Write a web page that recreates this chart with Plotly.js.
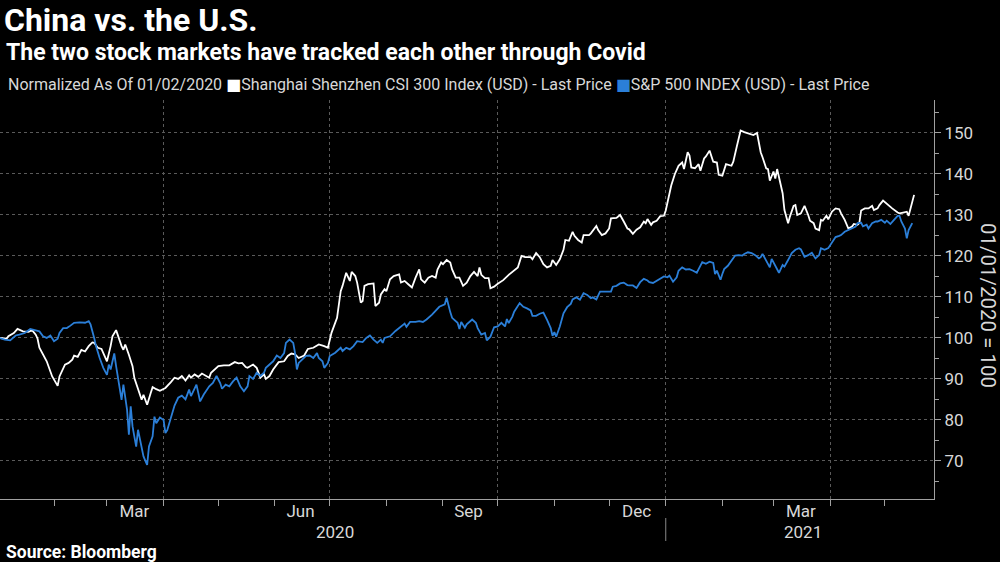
<!DOCTYPE html>
<html>
<head>
<meta charset="utf-8">
<script src="https://cdn.plot.ly/plotly-3.0.1.min.js"></script>
<style>html,body{margin:0;padding:0;background:#000;}#chart{width:1000px;height:562px;}</style>
</head>
<body>
<div id="chart"></div>
<script>
const csiDates = ['2020-01-02','2020-01-06','2020-01-07','2020-01-10','2020-01-12','2020-01-15','2020-01-18','2020-01-20','2020-01-22','2020-01-23','2020-01-24','2020-01-28','2020-01-31','2020-02-03','2020-02-04','2020-02-07','2020-02-09','2020-02-11','2020-02-12','2020-02-14','2020-02-16','2020-02-18','2020-02-20','2020-02-22','2020-02-23','2020-02-25','2020-02-27','2020-02-29','2020-03-01','2020-03-03','2020-03-04','2020-03-06','2020-03-07','2020-03-09','2020-03-10','2020-03-11','2020-03-13','2020-03-15','2020-03-16','2020-03-18','2020-03-20','2020-03-21','2020-03-23','2020-03-25','2020-03-26','2020-03-28','2020-03-30','2020-04-02','2020-04-04','2020-04-05','2020-04-07','2020-04-09','2020-04-11','2020-04-13','2020-04-15','2020-04-16','2020-04-18','2020-04-20','2020-04-22','2020-04-24','2020-04-26','2020-04-27','2020-04-29','2020-05-01','2020-05-04','2020-05-07','2020-05-10','2020-05-12','2020-05-14','2020-05-16','2020-05-17','2020-05-20','2020-05-22','2020-05-24','2020-05-26','2020-05-27','2020-05-29','2020-05-31','2020-06-03','2020-06-06','2020-06-08','2020-06-10','2020-06-12','2020-06-14','2020-06-17','2020-06-19','2020-06-22','2020-06-25','2020-06-28','2020-06-30','2020-07-02','2020-07-05','2020-07-07','2020-07-08','2020-07-10','2020-07-12','2020-07-13','2020-07-15','2020-07-16','2020-07-18','2020-07-19','2020-07-20','2020-07-22','2020-07-25','2020-07-26','2020-07-28','2020-07-29','2020-07-31','2020-08-01','2020-08-03','2020-08-05','2020-08-08','2020-08-09','2020-08-11','2020-08-13','2020-08-15','2020-08-17','2020-08-19','2020-08-20','2020-08-22','2020-08-24','2020-08-26','2020-08-28','2020-08-29','2020-08-31','2020-09-01','2020-09-03','2020-09-05','2020-09-06','2020-09-08','2020-09-10','2020-09-12','2020-09-14','2020-09-16','2020-09-18','2020-09-20','2020-09-21','2020-09-22','2020-09-24','2020-09-26','2020-09-27','2020-09-29','2020-10-01','2020-10-04','2020-10-07','2020-10-10','2020-10-12','2020-10-14','2020-10-16','2020-10-19','2020-10-20','2020-10-22','2020-10-24','2020-10-26','2020-10-28','2020-10-30','2020-10-31','2020-11-02','2020-11-04','2020-11-06','2020-11-07','2020-11-09','2020-11-11','2020-11-12','2020-11-14','2020-11-16','2020-11-17','2020-11-20','2020-11-21','2020-11-24','2020-11-25','2020-11-27','2020-11-29','2020-12-01','2020-12-02','2020-12-05','2020-12-07','2020-12-09','2020-12-11','2020-12-12','2020-12-14','2020-12-16','2020-12-18','2020-12-20','2020-12-21','2020-12-22','2020-12-24','2020-12-25','2020-12-27','2020-12-29','2020-12-31','2021-01-01','2021-01-02','2021-01-04','2021-01-06','2021-01-08','2021-01-10','2021-01-11','2021-01-13','2021-01-14','2021-01-15','2021-01-17','2021-01-19','2021-01-20','2021-01-22','2021-01-23','2021-01-25','2021-01-27','2021-01-29','2021-01-30','2021-02-01','2021-02-03','2021-02-06','2021-02-07','2021-02-09','2021-02-11','2021-02-13','2021-02-16','2021-02-18','2021-02-20','2021-02-22','2021-02-23','2021-02-25','2021-02-26','2021-02-27','2021-03-01','2021-03-02','2021-03-03','2021-03-05','2021-03-06','2021-03-07','2021-03-09','2021-03-10','2021-03-12','2021-03-13','2021-03-14','2021-03-16','2021-03-17','2021-03-18','2021-03-20','2021-03-21','2021-03-23','2021-03-24','2021-03-26','2021-03-27','2021-03-28','2021-03-30','2021-03-31','2021-04-02','2021-04-04','2021-04-06','2021-04-07','2021-04-09','2021-04-11','2021-04-13','2021-04-14','2021-04-16','2021-04-17','2021-04-18','2021-04-20','2021-04-22','2021-04-24','2021-04-25','2021-04-27','2021-04-28','2021-04-30','2021-05-02','2021-05-03','2021-05-05','2021-05-08','2021-05-09','2021-05-11','2021-05-13','2021-05-14','2021-05-16','2021-05-17'];
const csiValues = [100,99.8,100.4,101.2,102.2,101.6,101.5,101.9,100.8,99.8,97.6,94.3,90.6,88.3,90.6,93.5,93.9,94.7,95.7,95.4,97.1,96.7,98,98.9,98.8,97.6,97.3,95.1,94.3,98,100.4,101.9,100.4,98,97.1,98.4,95.9,93.1,90.2,87.8,84.9,86.1,83.7,86.6,88,87.5,87.1,87.8,88.6,89.2,90.3,90,90.7,89.6,90.9,90.3,91.1,90.5,91.3,90.7,90.3,91.5,92.3,93.1,93.3,93.3,94.1,93.8,93.9,92.9,92.7,93.5,92.7,90.3,91.1,90,90.7,92.3,94.1,94.3,95.6,96.2,96,95.1,95.7,97.3,97.6,98.4,98,97.6,101.3,104.9,111.4,112.7,115.9,113.9,116.1,115.1,113.5,108.6,109,112.7,113.1,113.3,107.8,108.6,110.6,111.9,111.4,114.3,115.1,115.5,113.5,113.9,113.1,112.3,114.7,116.7,114.3,113.5,114.7,115.1,114.7,116.7,118.4,118,119,118.4,116.7,114.7,114.7,112.7,113.5,115.1,116.1,115.1,117.2,115.4,114.6,114.6,112.1,112.5,113.2,114.1,115.4,116.4,117.2,120,119.7,119.7,119.2,120.7,119.7,118,117.2,117.6,119,117.8,119.2,121.5,123.9,123.7,125.9,124.9,123.9,123.3,125.1,125.1,125.5,127.3,126.3,125.1,125.5,126.7,129.2,129.3,130,128.4,126.7,126.5,125.4,126.4,127,128.4,128,129,127.6,128.2,128.6,129.7,129.8,131.1,133.1,137.2,140,142,142.8,141.2,145.3,144.5,141.6,141.4,142.4,140.8,143.8,144.3,145.7,143,142.8,139.8,139.6,142.4,142,143,146.9,150.6,150.2,149.8,149.5,150,145.3,144.1,141.4,141.2,138.4,140.6,138.9,141.2,137,135.3,131.2,128,129.6,132.2,132.4,130,130.4,131.2,132.2,130,128.6,128,126.7,126.3,128.8,128.6,129.8,128.9,130.8,131.6,131.4,130.4,128.8,126.7,127.2,127.8,127.6,128,131.1,131.6,131.6,132.2,131.2,131.6,132.4,133.5,132.7,132.2,131.6,130.6,130.4,130.6,130.8,129.8,132.8,134.9];

const spxDates = ['2020-01-02','2020-01-05','2020-01-08','2020-01-11','2020-01-13','2020-01-16','2020-01-19','2020-01-21','2020-01-23','2020-01-24','2020-01-26','2020-01-28','2020-01-30','2020-02-01','2020-02-03','2020-02-04','2020-02-06','2020-02-08','2020-02-10','2020-02-12','2020-02-15','2020-02-18','2020-02-20','2020-02-21','2020-02-23','2020-02-24','2020-02-26','2020-02-28','2020-03-01','2020-03-02','2020-03-03','2020-03-05','2020-03-06','2020-03-08','2020-03-09','2020-03-10','2020-03-12','2020-03-13','2020-03-14','2020-03-15','2020-03-17','2020-03-18','2020-03-20','2020-03-21','2020-03-23','2020-03-24','2020-03-26','2020-03-27','2020-03-28','2020-03-30','2020-04-01','2020-04-02','2020-04-03','2020-04-05','2020-04-06','2020-04-07','2020-04-09','2020-04-11','2020-04-13','2020-04-15','2020-04-16','2020-04-19','2020-04-20','2020-04-21','2020-04-23','2020-04-25','2020-04-26','2020-04-28','2020-04-30','2020-05-02','2020-05-03','2020-05-05','2020-05-07','2020-05-09','2020-05-11','2020-05-13','2020-05-15','2020-05-17','2020-05-18','2020-05-20','2020-05-22','2020-05-24','2020-05-26','2020-05-27','2020-05-29','2020-05-31','2020-06-02','2020-06-04','2020-06-06','2020-06-07','2020-06-09','2020-06-11','2020-06-12','2020-06-13','2020-06-14','2020-06-16','2020-06-18','2020-06-20','2020-06-22','2020-06-24','2020-06-25','2020-06-27','2020-06-28','2020-06-30','2020-07-01','2020-07-04','2020-07-07','2020-07-08','2020-07-10','2020-07-12','2020-07-14','2020-07-16','2020-07-19','2020-07-21','2020-07-23','2020-07-25','2020-07-27','2020-07-29','2020-07-30','2020-07-31','2020-08-03','2020-08-06','2020-08-09','2020-08-11','2020-08-12','2020-08-14','2020-08-17','2020-08-19','2020-08-21','2020-08-23','2020-08-26','2020-08-29','2020-08-30','2020-09-02','2020-09-03','2020-09-05','2020-09-06','2020-09-09','2020-09-10','2020-09-11','2020-09-13','2020-09-14','2020-09-17','2020-09-19','2020-09-20','2020-09-22','2020-09-24','2020-09-25','2020-09-27','2020-09-29','2020-10-01','2020-10-03','2020-10-05','2020-10-06','2020-10-07','2020-10-09','2020-10-10','2020-10-13','2020-10-15','2020-10-17','2020-10-19','2020-10-20','2020-10-22','2020-10-24','2020-10-26','2020-10-28','2020-10-30','2020-10-31','2020-11-01','2020-11-02','2020-11-04','2020-11-06','2020-11-08','2020-11-10','2020-11-11','2020-11-13','2020-11-15','2020-11-17','2020-11-19','2020-11-21','2020-11-22','2020-11-24','2020-11-26','2020-11-28','2020-11-30','2020-12-02','2020-12-03','2020-12-05','2020-12-07','2020-12-09','2020-12-11','2020-12-12','2020-12-14','2020-12-16','2020-12-18','2020-12-20','2020-12-22','2020-12-23','2020-12-25','2020-12-27','2020-12-29','2020-12-31','2021-01-02','2021-01-03','2021-01-05','2021-01-07','2021-01-08','2021-01-10','2021-01-12','2021-01-14','2021-01-16','2021-01-18','2021-01-19','2021-01-21','2021-01-23','2021-01-25','2021-01-27','2021-01-28','2021-01-29','2021-01-31','2021-02-01','2021-02-02','2021-02-04','2021-02-06','2021-02-08','2021-02-10','2021-02-12','2021-02-13','2021-02-15','2021-02-17','2021-02-19','2021-02-21','2021-02-22','2021-02-23','2021-02-25','2021-02-27','2021-02-28','2021-03-02','2021-03-04','2021-03-06','2021-03-07','2021-03-09','2021-03-11','2021-03-13','2021-03-15','2021-03-16','2021-03-18','2021-03-20','2021-03-22','2021-03-24','2021-03-26','2021-03-27','2021-03-29','2021-03-31','2021-04-02','2021-04-04','2021-04-06','2021-04-07','2021-04-09','2021-04-11','2021-04-13','2021-04-15','2021-04-16','2021-04-18','2021-04-19','2021-04-21','2021-04-22','2021-04-24','2021-04-26','2021-04-27','2021-04-29','2021-05-01','2021-05-02','2021-05-04','2021-05-06','2021-05-08','2021-05-09','2021-05-10','2021-05-12','2021-05-13','2021-05-14','2021-05-16'];
const spxValues = [100,99.6,99.4,100.6,100.8,101.2,102.2,101.9,101.6,101.6,100.4,100,100.6,99.2,99.8,101.2,102.4,102.4,103,103.7,103.8,103.7,104.1,103.3,100,98,95.1,92.7,91,93.5,92.3,96.2,93.1,88.2,84.9,88.6,82.5,76.4,83.3,78.4,73.5,77.6,73.5,71.1,69,73.5,76,80.8,79.2,80.6,80,76.8,77.5,80.5,82.5,83.5,85.4,85.9,85,87.4,85.8,88.6,86.6,84.5,86.2,87.4,88.2,89,90.7,89,87.6,88.6,88.2,89.4,90.3,88.2,87,88.2,90.7,90,91.5,90.7,91.5,92.7,93.5,94.3,95.7,95.1,96.3,98.8,99.6,98.8,96.3,92.3,93.9,94.7,95.6,95.7,95.1,96.3,95.1,94.3,92.7,93.9,95.6,96.4,97.6,96.8,97.6,97.2,98,99.2,99,100,100.6,99.6,98.8,99.6,98.8,100,100.4,101.7,102.9,103.5,102.7,103.9,103.9,104.1,103.9,104.5,105.7,107,107.6,108.2,109.8,106.3,104.9,103.7,102.2,103.9,102.5,103.3,104.5,103.7,102.4,100.8,101.2,99.4,100.3,102.6,102.8,103.7,102.8,104.6,103.6,105.2,106.4,108.5,107.6,107.2,106.7,105.4,105.4,105.9,106.2,104.4,102.4,100.5,101.4,100.3,102.8,106,107.5,108.3,109.4,109.9,109.3,110.9,110.5,109.7,109.9,109.4,111.3,111.3,111.3,111.3,112.5,112.7,113.3,113.5,112.9,112.8,112.8,112.2,113.6,114.4,114,113.6,113.4,114,114.6,115,114.8,115.2,113.7,114.8,116.4,117.2,116.7,116.8,116.4,115.9,116.8,118.5,118.1,118.6,118.3,115.6,116.4,114.2,115.6,116.8,117.6,118.9,120.1,120.2,120.1,120.5,120.9,120.7,120.2,119.4,119.7,120.5,118.9,117.2,119.3,117.6,115.9,117.8,117.4,119,120.7,121.5,121.9,121.6,119.8,120.2,120.8,119.4,120.2,121.9,121.5,121.9,123.1,124.6,124.9,125.1,125.9,126.3,126.7,127.2,128,128.1,127.2,127.6,126.7,128,128.4,128.4,128.8,128.1,128.6,127.8,128.8,129.8,129.8,128.4,126.7,124.3,126.3,128];

const seriesNames = ['Shanghai Shenzhen CSI 300 Index (USD) - Last Price', 'S&P 500 INDEX (USD) - Last Price'];
const gridDates = ['2020-04-01','2020-07-01','2020-10-01','2021-01-01','2021-04-01'];
const monthLabelDates = ['2020-03-16','2020-06-15','2020-09-15','2020-12-16','2021-03-16'];
const monthLabels = ['Mar','Jun','Sep','Dec','Mar'];
const yearLabelDates = ['2020-07-04','2021-03-17'];
const yearLabels = ['2020','2021'];
const yearBreak = '2021-01-01';

const FONT = 'Roboto, "DejaVu Sans", sans-serif';
const WHITE = '#ffffff';
const BLUE = '#2b7fd8';
const AXIS = '#a0a0a0';
const GRID = '#5a5a5a';

const traces = [
  {x: csiDates, y: csiValues, name: seriesNames[0], type: 'scatter', mode: 'lines',
   line: {color: WHITE, width: 1.8}, xaxis: 'x', yaxis: 'y'},
  {x: spxDates, y: spxValues, name: seriesNames[1], type: 'scatter', mode: 'lines',
   line: {color: BLUE, width: 1.8}, xaxis: 'x2', yaxis: 'y'}
];

const H = 399; // plot height in px for paper conversions
const py = (pix) => (499 - pix) / H;
const W = 934;

const annotations = [
  {text: '<b>The two stock markets have tracked each other through Covid</b>', xref: 'paper', yref: 'paper',
   x: 4 / W, y: py(52), xanchor: 'left', yanchor: 'middle', showarrow: false,
   font: {size: 23, color: '#ffffff', family: FONT}},
  {text: 'Normalized As Of 01/02/2020 <span style="color:' + WHITE + '">■</span>' + seriesNames[0] +
         ' <span style="color:' + BLUE + '">■</span>' + seriesNames[1].replace('&', '&amp;'),
   xref: 'paper', yref: 'paper', x: 6 / W, y: py(85), xanchor: 'left', yanchor: 'middle', showarrow: false,
   font: {size: 16, color: '#d8d8d8', family: FONT}},
  {text: '01/01/2020 = 100', xref: 'paper', yref: 'paper', x: 988 / W, y: py(305), xanchor: 'center', yanchor: 'middle',
   textangle: 90, showarrow: false, font: {size: 20.5, color: '#d8d8d8', family: FONT}},
  {text: '<b>Source: Bloomberg</b>', xref: 'paper', yref: 'paper', x: 4 / W, y: py(552), xanchor: 'left', yanchor: 'middle',
   showarrow: false, font: {size: 17.5, color: '#ffffff', family: FONT}}
];
yearLabels.forEach((t, i) => annotations.push({
  text: t, xref: 'x', yref: 'paper', x: yearLabelDates[i], y: py(532), xanchor: 'center', yanchor: 'middle',
  showarrow: false, font: {size: 17, color: '#d8d8d8', family: FONT}
}));

const layout = {
  width: 1000, height: 562,
  paper_bgcolor: '#000000', plot_bgcolor: '#000000',
  margin: {l: 0, r: 66, t: 100, b: 63, pad: 0},
  showlegend: false,
  font: {family: FONT, color: '#d8d8d8', size: 16},
  title: {text: '<b>China vs. the U.S.</b>', xref: 'container', yref: 'container', x: 0.004, xanchor: 'left',
          y: 1 - 19.5 / 562, yanchor: 'middle', font: {size: 32, color: '#ffffff', family: FONT}},
  xaxis: {
    type: 'date', range: ['2020-01-02 10:10', '2021-05-27 21:36'],
    tickmode: 'array', tickvals: gridDates, ticktext: gridDates.map(() => ''),
    showgrid: true, gridcolor: GRID, griddash: 'dot', gridwidth: 1,
    ticks: 'outside', ticklen: 6, tickcolor: AXIS, tickwidth: 1,
    showline: true, linecolor: AXIS, linewidth: 1, zeroline: false,
    minor: {tickmode: 'linear', tick0: '2020-01-01', dtick: 'M1', ticks: 'outside', ticklen: 6, tickcolor: AXIS, showgrid: false},
    fixedrange: true
  },
  xaxis2: {
    type: 'date', matches: 'x', overlaying: 'x', anchor: 'y', side: 'bottom',
    tickmode: 'array', tickvals: monthLabelDates, ticktext: monthLabels,
    ticks: '', showgrid: false, showline: false, zeroline: false,
    tickfont: {size: 17, color: '#d8d8d8', family: FONT}, fixedrange: true
  },
  yaxis: {
    side: 'right', range: [60.7, 158.05], tickmode: 'linear', tick0: 70, dtick: 10,
    showgrid: true, gridcolor: GRID, griddash: 'dot', gridwidth: 1,
    ticks: 'outside', ticklen: 6, tickcolor: AXIS,
    showline: true, linecolor: AXIS, linewidth: 1, zeroline: false,
    minor: {tickmode: 'linear', tick0: 65, dtick: 10, ticks: 'outside', ticklen: 4, tickcolor: AXIS, showgrid: false},
    tickfont: {size: 17, color: '#d8d8d8', family: FONT}, fixedrange: true
  },
  annotations: annotations,
  shapes: [
    {type: 'line', xref: 'x', yref: 'paper', x0: yearBreak, x1: yearBreak, y0: py(518), y1: py(541),
     line: {color: '#888888', width: 1}}
  ]
};

Plotly.newPlot('chart', traces, layout, {staticPlot: true, displayModeBar: false});
</script>
</body>
</html>
